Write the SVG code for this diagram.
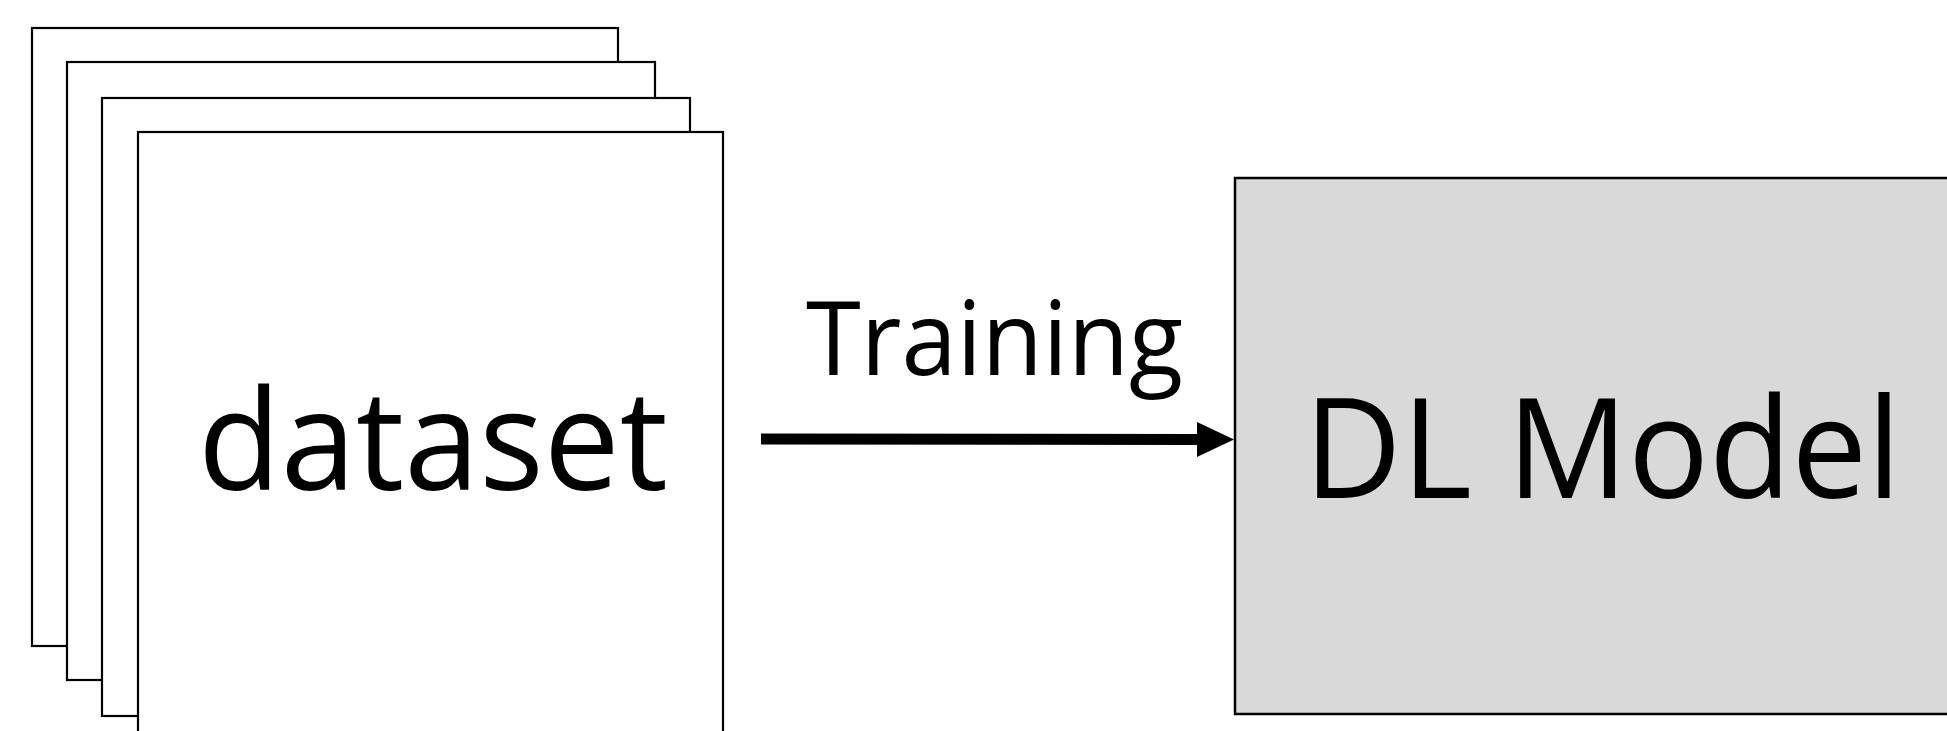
<svg xmlns="http://www.w3.org/2000/svg" width="1947" height="731" viewBox="0 0 1947 731">
  <style>
    .page { fill: #ffffff; stroke: #000000; stroke-width: 2.2; }
    .model { fill: #d9d9d9; stroke: #000000; stroke-width: 2.5; }
    .lbl { font-family: "Open Sans", Lato, "Liberation Sans", sans-serif; fill: #000000; }
    .conn { stroke: #000000; stroke-width: 11; fill: none; }
  </style>
  <defs>
    <marker id="head" markerUnits="userSpaceOnUse" markerWidth="38" markerHeight="36" refX="0" refY="17.5" orient="auto" overflow="visible">
      <path d="M0,0 L37,17.5 L0,35 Z" fill="#000000"/>
    </marker>
  </defs>
  <rect x="0" y="0" width="1947" height="731" fill="#ffffff"/>
  <g id="dataset">
    <rect class="page" x="32" y="28" width="586" height="618"/>
    <rect class="page" x="67" y="62" width="588" height="618"/>
    <rect class="page" x="102" y="98" width="588" height="618"/>
    <rect class="page" x="138" y="132" width="585" height="630"/>
    <text class="lbl" x="198" y="490" font-size="140" textLength="470" lengthAdjust="spacingAndGlyphs">dataset</text>
  </g>
  <g id="dl-model">
    <rect class="model" x="1235" y="178" width="740" height="536"/>
    <text class="lbl" x="1304" y="498" font-size="140" textLength="597" lengthAdjust="spacingAndGlyphs">DL Model</text>
  </g>
  <g id="connectors">
    <line class="conn" x1="761" y1="439" x2="1197" y2="439.5" marker-end="url(#head)"/>
    <text class="lbl" x="806" y="375" font-size="102" textLength="377" lengthAdjust="spacingAndGlyphs">Training</text>
  </g>
</svg>
